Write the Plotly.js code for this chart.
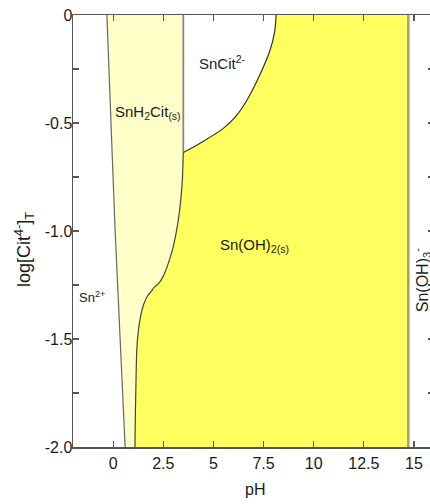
<!DOCTYPE html>
<html>
<head>
<meta charset="utf-8">
<script src="https://cdn.plot.ly/plotly-3.0.1.min.js"></script>
<style>
html, body { margin: 0; padding: 0; overflow: hidden; background: #fff; }
#chart { width: 436px; height: 504px; }
</style>
</head>
<body>
<div id="chart"></div>
<script>
// Boundary Sn2+ / SnH2Cit(s)
const pH_b1  = [-0.31, -0.1, 0.1, 0.35, 0.6];
const log_b1 = [0, -0.5, -1.0, -1.5, -2.0];
// Boundary SnH2Cit(s) / (SnCit2-, Sn(OH)2(s))
const pH_b2  = [3.5, 3.5, 3.46, 3.38, 3.25, 3.12, 2.95, 2.75, 2.5, 2.25, 2.05, 1.9, 1.72, 1.52, 1.36, 1.25, 1.18, 1.14, 1.11, 1.09];
const log_b2 = [0, -0.637, -0.75, -0.85, -0.95, -1.02, -1.09, -1.15, -1.21, -1.245, -1.26, -1.28, -1.30, -1.34, -1.40, -1.47, -1.55, -1.7, -1.85, -2.0];
// Boundary SnCit2- / Sn(OH)2(s)
const pH_cit  = [3.5, 4.4, 5.48, 6.14, 6.7, 7.3, 7.8, 8.05, 8.13];
const log_cit = [-0.637, -0.59, -0.526, -0.467, -0.39, -0.28, -0.17, -0.08, 0];
// Boundary Sn(OH)2(s) / Sn(OH)3-
const pH_b3  = [14.72, 14.72];
const log_b3 = [0, -2.0];

const xTickVals = [0, 2.5, 5, 7.5, 10, 12.5, 15];
const xTickText = ['0', '2.5', '5', '7.5', '10', '12.5', '15'];
const yTickVals = [0, -0.25, -0.5, -0.75, -1.0, -1.25, -1.5, -1.75, -2.0];
const yTickText = ['0', '', '-0.5', '', '-1.0', '', '-1.5', '', '-2.0'];

const rev = a => a.slice().reverse();

// Light-yellow SnH2Cit(s) polygon
const lightX = pH_b1.concat(rev(pH_b2));
const lightY = log_b1.concat(rev(log_b2));
// Bright-yellow Sn(OH)2(s) polygon
const brightX = pH_b2.slice(1).concat([pH_b3[1], pH_b3[0]]).concat(rev(pH_cit));
const brightY = log_b2.slice(1).concat([log_b3[1], log_b3[0]]).concat(rev(log_cit));

const traces = [
  {x: lightX, y: lightY, mode: 'lines', fill: 'toself', fillcolor: '#FFFFC8',
   line: {width: 0}, hoverinfo: 'skip', showlegend: false},
  {x: brightX, y: brightY, mode: 'lines', fill: 'toself', fillcolor: '#FFFF60',
   line: {width: 0}, hoverinfo: 'skip', showlegend: false},
  {x: pH_b1, y: log_b1, mode: 'lines', line: {color: '#666', width: 1.2}, showlegend: false},
  {x: pH_b2.slice(0, 2), y: log_b2.slice(0, 2), mode: 'lines', line: {color: '#888', width: 1.8}, showlegend: false},
  {x: pH_b2.slice(1), y: log_b2.slice(1), mode: 'lines', line: {color: '#444', width: 1.2, shape: 'spline', smoothing: 0.6}, showlegend: false},
  {x: pH_cit, y: log_cit, mode: 'lines', line: {color: '#333', width: 1.2, shape: 'spline', smoothing: 0.8}, showlegend: false},
  {x: pH_b3, y: log_b3, mode: 'lines', line: {color: '#A3A36A', width: 2.5}, showlegend: false}
];

const fnt = {family: 'Arial, Liberation Sans, sans-serif', color: '#1a1a1a'};

const layout = {
  width: 436, height: 504,
  margin: {l: 73, r: 2, t: 15, b: 57},
  paper_bgcolor: '#fff', plot_bgcolor: '#fff',
  showlegend: false,
  xaxis: {
    range: [-2, 16], tickmode: 'array', tickvals: xTickVals, ticktext: xTickText,
    ticks: 'inside', ticklen: 6, tickwidth: 1.2, tickcolor: '#555',
    showline: true, mirror: 'ticks', linecolor: '#555', linewidth: 1.5,
    showgrid: false, zeroline: false,
    tickfont: Object.assign({size: 16}, fnt), ticklabelstandoff: 1
  },
  yaxis: {
    range: [-2, 0], tickmode: 'array', tickvals: yTickVals, ticktext: yTickText,
    ticks: 'inside', ticklen: 6, tickwidth: 1.2, tickcolor: '#555',
    showline: true, mirror: 'ticks', linecolor: '#555', linewidth: 1.5,
    showgrid: false, zeroline: false,
    tickfont: Object.assign({size: 16}, fnt), ticklabelstandoff: -4
  },
  annotations: [
    {x: 1.74, y: -0.452, xref: 'x', yref: 'y', showarrow: false,
     text: 'SnH<sub>2</sub>Cit<sub>(s)</sub>', font: Object.assign({size: 15}, fnt)},
    {x: 5.43, y: -0.22, xref: 'x', yref: 'y', showarrow: false,
     text: 'SnCit<sup>2-</sup>', font: Object.assign({size: 15}, fnt)},
    {x: 7.07, y: -1.065, xref: 'x', yref: 'y', showarrow: false,
     text: 'Sn(OH)<sub>2(s)</sub>', font: Object.assign({size: 15}, fnt)},
    {x: -1.05, y: -1.305, xref: 'x', yref: 'y', showarrow: false,
     text: 'Sn<sup>2+</sup>', font: Object.assign({size: 13}, fnt)},
    {x: 15.38, y: -1.23, xref: 'x', yref: 'y', showarrow: false, textangle: -90,
     text: 'Sn(OH)<sub>3</sub><sup>-</sup>', font: Object.assign({size: 16}, fnt)},
    {x: -0.136, y: 0.458, xref: 'paper', yref: 'paper', xanchor: 'center', yanchor: 'middle',
     showarrow: false, textangle: -90,
     text: 'log[Cit<sup>4-</sup>]<sub>T</sub>', font: Object.assign({size: 18}, fnt)},
    {x: 0.504, y: -0.0995, xref: 'paper', yref: 'paper', xanchor: 'center', yanchor: 'middle',
     showarrow: false,
     text: 'pH', font: Object.assign({size: 16}, fnt)}
  ]
};

Plotly.newPlot('chart', traces, layout, {staticPlot: true, displayModeBar: false});
</script>
</body>
</html>
